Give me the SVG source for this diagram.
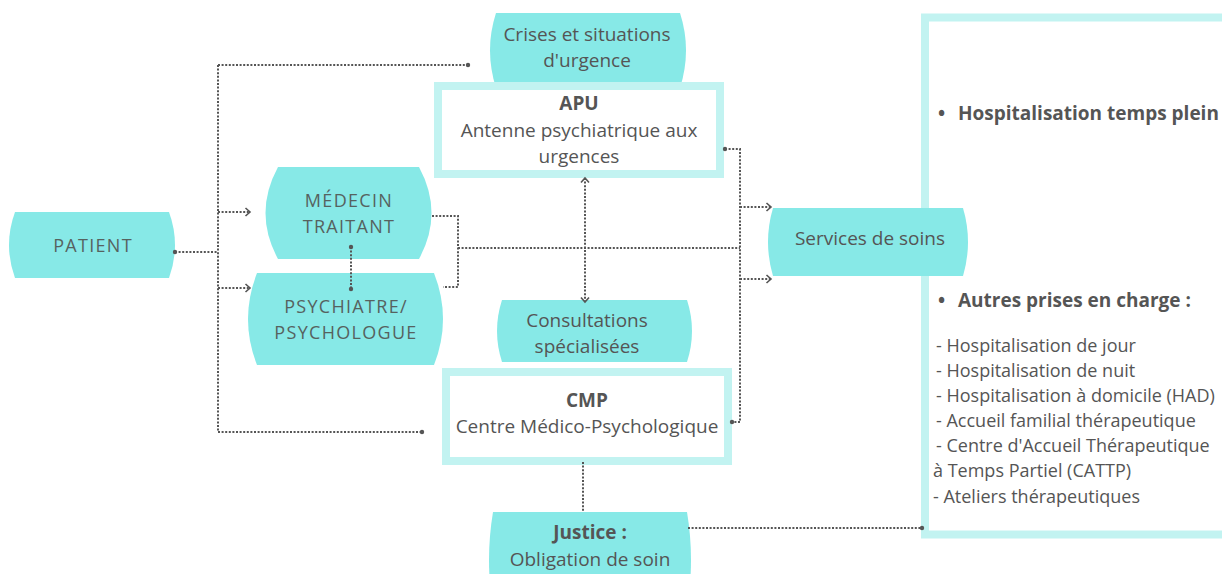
<svg xmlns="http://www.w3.org/2000/svg" width="1222" height="574" viewBox="0 0 1222 574">
<defs>
<style>
.pill{fill:#87e9e7;}
.box{fill:#ffffff;stroke:#c2f3f1;stroke-width:8;}
.nt{font-family:"Open Sans","Liberation Sans",sans-serif;font-size:18px;fill:#56625f;text-anchor:middle;letter-spacing:1.3px;}
.t{font-family:"Open Sans","Liberation Sans",sans-serif;font-size:19px;fill:#555;text-anchor:middle;}
.b{font-weight:bold;}
.lt{font-family:"Open Sans","Liberation Sans",sans-serif;font-size:18px;fill:#555;}
.lb{font-family:"Open Sans","Liberation Sans",sans-serif;font-size:19px;font-weight:bold;fill:#555;}
.c{fill:none;stroke:#555;stroke-width:2;stroke-dasharray:2 1.6;}
</style>
<marker id="arr" markerUnits="userSpaceOnUse" markerWidth="10" markerHeight="12" refX="6" refY="5" orient="auto-start-reverse">
<path d="M1.5,1 L6,5 L1.5,9" fill="none" stroke="#555" stroke-width="1.6"/>
</marker>
<marker id="dot" markerUnits="userSpaceOnUse" markerWidth="6" markerHeight="6" refX="3" refY="3">
<circle cx="3" cy="3" r="2.2" fill="#555"/>
</marker>
</defs>

<g id="big-box">
<rect class="box" x="925" y="17.5" width="320" height="517"/>
<text class="lb" x="938" y="120">•</text>
<text class="lb" x="958" y="120">Hospitalisation temps plein</text>
<text class="lb" x="938" y="307">•</text>
<text class="lb" x="958" y="307">Autres prises en charge :</text>
<text class="lt" x="936" y="352"> - Hospitalisation de jour</text>
<text class="lt" x="936" y="377"> - Hospitalisation de nuit</text>
<text class="lt" x="936" y="402"> - Hospitalisation à domicile (HAD)</text>
<text class="lt" x="936" y="427"> - Accueil familial thérapeutique</text>
<text class="lt" x="936" y="452"> - Centre d'Accueil Thérapeutique</text>
<text class="lt" x="933" y="477">à Temps Partiel (CATTP)</text>
<text class="lt" x="933" y="503">- Ateliers thérapeutiques</text>
</g>

<g id="patient">
<path class="pill" d="M15,212 H169 Q181,245 169,278 H15 Q3,245 15,212 Z"/>
<text class="nt" x="93" y="252">PATIENT</text>
</g>

<g id="medecin">
<path class="pill" d="M278,167 H419 Q444,213 419,259 H278 Q253,213 278,167 Z"/>
<text class="nt" x="349" y="207">MÉDECIN</text>
<text class="nt" x="349" y="233">TRAITANT</text>
</g>

<g id="psychiatre">
<path class="pill" d="M257,273 H434 Q452,319 434,365 H257 Q239,319 257,273 Z"/>
<text class="nt" x="346" y="313">PSYCHIATRE/</text>
<text class="nt" x="346" y="339">PSYCHOLOGUE</text>
</g>

<g id="crises">
<path class="pill" d="M496,13 H680 Q692,50 680,88 H496 Q484,50 496,13 Z"/>
<text class="t" x="587" y="41">Crises et situations</text>
<text class="t" x="587" y="67">d'urgence</text>
</g>

<g id="apu">
<rect class="box" x="438" y="86" width="282" height="88"/>
<text class="t b" x="579" y="110">APU</text>
<text class="t" x="579" y="137">Antenne psychiatrique aux</text>
<text class="t" x="579" y="163">urgences</text>
</g>

<g id="consultations">
<path class="pill" d="M502,300 H687 Q697,331 687,362 H502 Q492,331 502,300 Z"/>
<text class="t" x="587" y="327">Consultations</text>
<text class="t" x="587" y="353">spécialisées</text>
</g>

<g id="cmp">
<rect class="box" x="446" y="372" width="282" height="89"/>
<text class="t b" x="587" y="407">CMP</text>
<text class="t" x="587" y="433">Centre Médico-Psychologique</text>
</g>

<g id="services">
<path class="pill" d="M773,208 H963 Q973,242 963,276 H773 Q763,242 773,208 Z"/>
<text class="t" x="870" y="245">Services de soins</text>
</g>

<g id="justice">
<path class="pill" d="M493,512 H687 Q695,560 687,608 H493 Q485,560 493,512 Z"/>
<text class="t b" x="590" y="539">Justice :</text>
<text class="t" x="590" y="566">Obligation de soin</text>
</g>

<g id="connectors">
<path class="c" d="M175,252 H218" marker-start="url(#dot)"/>
<path class="c" d="M218,65 V432"/>
<path class="c" d="M218,65 H468" marker-end="url(#dot)"/>
<path class="c" d="M218,432 H422" marker-end="url(#dot)"/>
<path class="c" d="M218,212 H250" marker-end="url(#arr)"/>
<path class="c" d="M218,288 H250" marker-end="url(#arr)"/>
<path class="c" d="M351,247 V289" marker-start="url(#dot)" marker-end="url(#dot)"/>
<path class="c" d="M432,216 H458 V287 H443"/>
<path class="c" d="M458,248 H740"/>
<path class="c" d="M725,149 H740 V422 H732" marker-start="url(#dot)" marker-end="url(#dot)"/>
<path class="c" d="M740,207 H771" marker-end="url(#arr)"/>
<path class="c" d="M740,279 H771" marker-end="url(#arr)"/>
<path class="c" d="M585,178 V302" marker-start="url(#arr)" marker-end="url(#arr)"/>
<path class="c" d="M583,462 V511"/>
<path class="c" d="M688,528 H922" marker-end="url(#dot)"/>
</g>
</svg>
